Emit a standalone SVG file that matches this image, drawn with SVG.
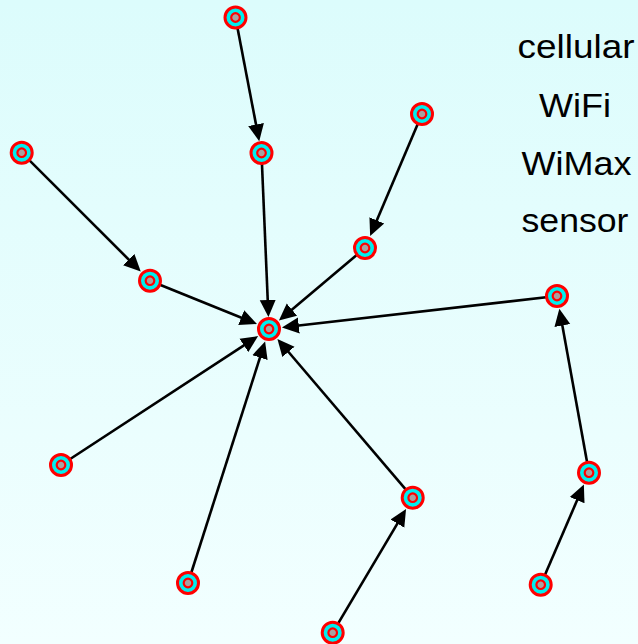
<svg xmlns="http://www.w3.org/2000/svg" width="638" height="644" viewBox="0 0 638 644">
<defs>
<linearGradient id="bg" x1="0" y1="0" x2="0" y2="1">
<stop offset="0" stop-color="#dcfcfc"/>
<stop offset="1" stop-color="#f2ffff"/>
</linearGradient>
<marker id="arr" markerUnits="userSpaceOnUse" markerWidth="18" markerHeight="18" viewBox="0 -9 18 18" refX="11" refY="0" orient="auto">
<path d="M0,-8 L17,0 L0,8 z" fill="#000"/>
</marker>
<g id="nd">
<circle r="10.5" fill="#00eeee" stroke="#ff0000" stroke-width="3"/>
<circle r="4.3" fill="#a8a0a0" stroke="#ff0000" stroke-width="2.2"/>
</g>
</defs>
<style>
.e{stroke:#000;stroke-width:2.6;fill:none;marker-end:url(#arr)}
.t{font-family:"Liberation Sans",Arial,sans-serif;font-size:33px;fill:#000;text-anchor:middle}
</style>
<rect width="638" height="644" fill="url(#bg)"/>
<g id="connectors">
<line class="e" x1="235.5" y1="17.5" x2="258.1" y2="135.3"/>
<line class="e" x1="261.5" y1="153" x2="268.2" y2="311"/>
<line class="e" x1="21.7" y1="152.7" x2="136.5" y2="267.3"/>
<line class="e" x1="422" y1="114" x2="372.5" y2="230.5"/>
<line class="e" x1="365" y1="248" x2="283.5" y2="316.7"/>
<line class="e" x1="150" y1="280.7" x2="251.4" y2="321.8"/>
<line class="e" x1="557" y1="296" x2="287.9" y2="326.8"/>
<line class="e" x1="61" y1="465" x2="253.1" y2="339.4"/>
<line class="e" x1="188" y1="583" x2="263.3" y2="347.1"/>
<line class="e" x1="412.7" y1="497.7" x2="281.3" y2="343.5"/>
<line class="e" x1="332.7" y1="632.7" x2="403" y2="514.1"/>
<line class="e" x1="589" y1="472.7" x2="560.4" y2="314.7"/>
<line class="e" x1="540.7" y1="584.7" x2="581.5" y2="490.1"/>
</g>
<g id="n1"><use href="#nd" x="235.5" y="17.5"/></g>
<g id="n2"><use href="#nd" x="261.5" y="153"/></g>
<g id="n3"><use href="#nd" x="21.7" y="152.7"/></g>
<g id="n4"><use href="#nd" x="422" y="114"/></g>
<g id="n5"><use href="#nd" x="365" y="248"/></g>
<g id="n6"><use href="#nd" x="150" y="280.7"/></g>
<g id="n7"><use href="#nd" x="269" y="329"/></g>
<g id="n8"><use href="#nd" x="557" y="296"/></g>
<g id="n9"><use href="#nd" x="61" y="465"/></g>
<g id="n10"><use href="#nd" x="412.7" y="497.7"/></g>
<g id="n11"><use href="#nd" x="589" y="472.7"/></g>
<g id="n12"><use href="#nd" x="188" y="583"/></g>
<g id="n13"><use href="#nd" x="332.7" y="632.7"/></g>
<g id="n14"><use href="#nd" x="540.7" y="584.7"/></g>
<g id="legend">
<text class="t" x="576" y="58" textLength="117" lengthAdjust="spacingAndGlyphs">cellular</text>
<text class="t" x="575" y="117" textLength="72" lengthAdjust="spacingAndGlyphs">WiFi</text>
<text class="t" x="576.5" y="175" textLength="110" lengthAdjust="spacingAndGlyphs">WiMax</text>
<text class="t" x="575" y="232" textLength="107" lengthAdjust="spacingAndGlyphs">sensor</text>
</g>
</svg>
